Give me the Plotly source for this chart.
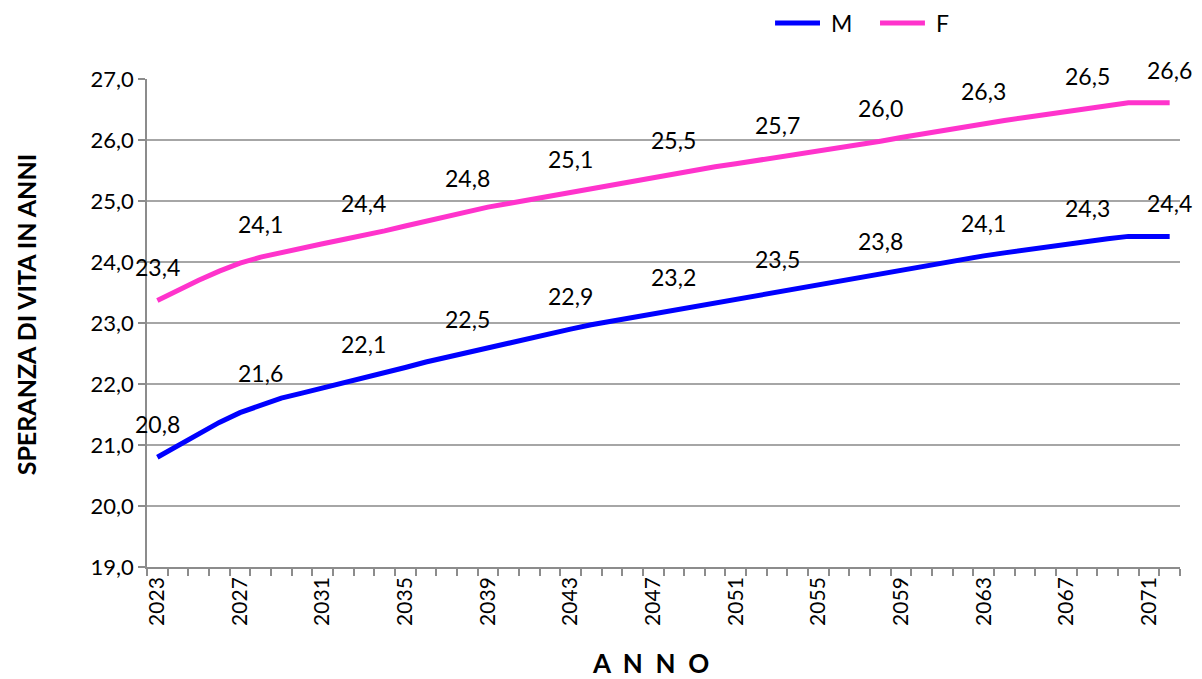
import plotly.graph_objects as go

years = list(range(2023, 2073))
m_values = [20.80, 20.99, 21.19, 21.37, 21.53, 21.64, 21.77, 21.85, 21.93, 22.03,
            22.11, 22.19, 22.27, 22.36, 22.44, 22.52, 22.60, 22.68, 22.75, 22.83,
            22.90, 22.97, 23.03, 23.09, 23.15, 23.21, 23.27, 23.33, 23.39, 23.45,
            23.51, 23.57, 23.63, 23.69, 23.76, 23.81, 23.86, 23.92, 23.98, 24.04,
            24.10, 24.15, 24.20, 24.25, 24.30, 24.34, 24.38, 24.42, 24.42, 24.42]
f_values = [23.37, 23.54, 23.70, 23.85, 23.98, 24.08, 24.16, 24.23, 24.30, 24.37,
            24.43, 24.51, 24.59, 24.67, 24.75, 24.83, 24.90, 24.96, 25.02, 25.08,
            25.14, 25.21, 25.28, 25.34, 25.40, 25.46, 25.51, 25.56, 25.61, 25.66,
            25.71, 25.76, 25.81, 25.86, 25.93, 25.98, 26.04, 26.10, 26.15, 26.21,
            26.27, 26.32, 26.37, 26.42, 26.47, 26.51, 26.56, 26.61, 26.61, 26.61]
label_years = [2023, 2028, 2033, 2038, 2043, 2048, 2053, 2058, 2063, 2068, 2072]
tick_years = list(range(2023, 2072, 4))
series_names = ["M", "F"]

FONT = "Lato"
COLORS = ["#0000FF", "#FF33CC"]

fig = go.Figure()
for name, vals, col in zip(series_names, [m_values, f_values], COLORS):
    fig.add_trace(go.Scatter(x=years, y=vals, mode="lines", name=name,
                             line=dict(color=col, width=5), showlegend=False))

annotations = []
for series in (m_values, f_values):
    for yr in label_years:
        v = series[years.index(yr)]
        annotations.append(dict(x=yr, y=v, xref="x", yref="y",
                                text=f"{v:.1f}".replace(".", ","),
                                showarrow=False, yshift=33,
                                font=dict(family=FONT, size=23, color="#000000")))

NB = "&nbsp;"
annotations.append(dict(x=0.487, y=-0.197, xref="paper", yref="paper",
                        text="<b>A" + NB * 2 + "N" + NB * 2 + "N" + NB * 2 + "O</b>",
                        showarrow=False, xanchor="center", yanchor="middle",
                        font=dict(family=FONT, size=26, color="#000000")))
annotations.append(dict(x=-0.117, y=0.516, xref="paper", yref="paper",
                        text="<b>SPERANZA DI VITA IN ANNI</b>", showarrow=False,
                        textangle=-90, xanchor="center", yanchor="middle",
                        font=dict(family=FONT, size=25, color="#000000")))

# legend drawn as line samples + labels above the plot area
LEG_Y = 1.1148
leg_line_x = [(0.608, 0.6515), (0.7096, 0.7531)]
leg_text_x = [0.661, 0.7628]
shapes = []
for name, col, (x0, x1), tx in zip(series_names, COLORS, leg_line_x, leg_text_x):
    shapes.append(dict(type="line", xref="paper", yref="paper",
                       x0=x0, x1=x1, y0=LEG_Y, y1=LEG_Y,
                       line=dict(color=col, width=5)))
    annotations.append(dict(x=tx, y=LEG_Y, xref="paper", yref="paper", text=name,
                            showarrow=False, xanchor="left", yanchor="middle",
                            borderpad=0,
                            font=dict(family=FONT, size=23, color="#000000")))

fig.update_layout(
    width=1194, height=671,
    margin=dict(l=139, r=22, t=71, b=112),
    paper_bgcolor="white", plot_bgcolor="white",
    separators=",.",
    font=dict(family=FONT, color="#000000"),
    showlegend=False,
    annotations=annotations,
    shapes=shapes,
)
fig.update_xaxes(
    range=[2022.5, 2072.5],
    tickmode="array", tickvals=tick_years, ticktext=[str(y) for y in tick_years],
    tickangle=-90, tickfont=dict(family=FONT, size=21),
    ticks="", showgrid=False, zeroline=False,
    showline=True, linecolor="#8C8C8C", linewidth=1.5,
    minor=dict(tick0=2022.5, dtick=1, ticks="outside", ticklen=7,
               tickcolor="#8C8C8C", tickwidth=1.5, showgrid=False),
)
fig.update_yaxes(
    range=[19, 27], dtick=1, tick0=19, tickformat=".1f",
    tickfont=dict(family=FONT, size=22),
    ticks="outside", ticklen=7, tickcolor="#8C8C8C", tickwidth=1.5,
    showgrid=True, gridcolor="#A6A6A6", gridwidth=1.5,
    zeroline=False, showline=True, linecolor="#8C8C8C", linewidth=1.5,
)

fig.write_html("out.html")
